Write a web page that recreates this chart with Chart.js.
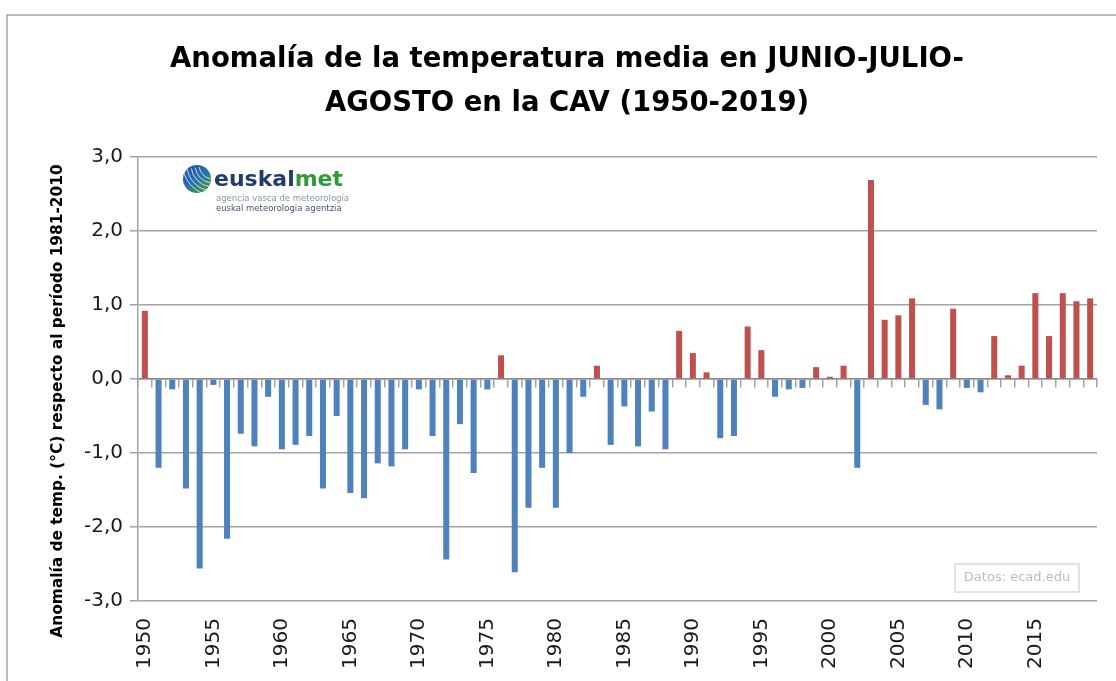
<!DOCTYPE html>
<html>
<head>
<meta charset="utf-8">
<script src="https://cdn.jsdelivr.net/npm/chart.js@4.4.1/dist/chart.umd.min.js"></script>
<style>
  html, body { margin: 0; padding: 0; background: #ffffff; }
  #wrap { position: relative; width: 1116px; height: 681px; }
</style>
</head>
<body>
<div id="wrap"><canvas id="c" width="1116" height="681"></canvas></div>
<script>
// ---- data ----
const years = [
  1950, 1951, 1952, 1953, 1954, 1955, 1956, 1957, 1958, 1959,
  1960, 1961, 1962, 1963, 1964, 1965, 1966, 1967, 1968, 1969,
  1970, 1971, 1972, 1973, 1974, 1975, 1976, 1977, 1978, 1979,
  1980, 1981, 1982, 1983, 1984, 1985, 1986, 1987, 1988, 1989,
  1990, 1991, 1992, 1993, 1994, 1995, 1996, 1997, 1998, 1999,
  2000, 2001, 2002, 2003, 2004, 2005, 2006, 2007, 2008, 2009,
  2010, 2011, 2012, 2013, 2014, 2015, 2016, 2017, 2018, 2019
];
const anomalies = [
   0.92, -1.20, -0.14, -1.48, -2.56, -0.08, -2.16, -0.74, -0.91, -0.24,
  -0.95, -0.89, -0.77, -1.48, -0.50, -1.54, -1.61, -1.14, -1.18, -0.95,
  -0.14, -0.77, -2.44, -0.61, -1.27, -0.14,  0.32, -2.61, -1.74, -1.20,
  -1.74, -1.00, -0.24,  0.18, -0.89, -0.37, -0.91, -0.44, -0.95,  0.65,
   0.35,  0.09, -0.80, -0.77,  0.71,  0.39, -0.24, -0.14, -0.12,  0.16,
   0.03,  0.18, -1.20,  2.69,  0.80,  0.86,  1.09, -0.35, -0.41,  0.95,
  -0.12, -0.18,  0.58,  0.05,  0.18,  1.16,  0.58,  1.16,  1.05,  1.09
];
const labeledYears = [1950, 1955, 1960, 1965, 1970, 1975, 1980, 1985, 1990, 1995, 2000, 2005, 2010, 2015];
const yMin = -3, yMax = 3, yStep = 1;
const titleLines = ['Anomalía de la temperatura media en JUNIO-JULIO-', 'AGOSTO en la CAV (1950-2019)'];
const yTitle = 'Anomalía de temp. (°C) respecto al período 1981-2010';

const RED = '#C0504D';
const BLUE = '#4F81BD';
const GRID = '#a3a3a3';
const FONT = 'DejaVu Sans';

const decor = {
  id: 'decor',
  beforeDraw(chart) {
    const ctx = chart.ctx;
    ctx.save();
    ctx.fillStyle = '#ffffff';
    ctx.fillRect(0, 0, chart.width, chart.height);
    // outer frame
    ctx.strokeStyle = '#a6a6a6';
    ctx.lineWidth = 1.5;
    ctx.beginPath();
    ctx.moveTo(7, 681);
    ctx.lineTo(7, 15);
    ctx.lineTo(1116, 15);
    ctx.stroke();
    ctx.restore();
  },
  afterDraw(chart) {
    const ctx = chart.ctx;
    ctx.save();
    // y-axis title
    ctx.translate(58, 401);
    ctx.rotate(-Math.PI / 2);
    ctx.font = 'bold 15.4px ' + FONT;
    ctx.fillStyle = '#000';
    ctx.textAlign = 'center';
    ctx.textBaseline = 'middle';
    ctx.fillText(yTitle, 0, 0);
    ctx.restore();

    // logo: globe
    ctx.save();
    const gx = 197, gy = 179, gr = 14;
    const g = ctx.createLinearGradient(gx - gr, gy - gr, gx + gr * 0.4, gy + gr);
    g.addColorStop(0, '#1d4f9a');
    g.addColorStop(0.55, '#2a6db5');
    g.addColorStop(1, '#3d9b3f');
    ctx.fillStyle = g;
    ctx.beginPath();
    ctx.arc(gx, gy, gr, 0, Math.PI * 2);
    ctx.fill();
    ctx.strokeStyle = 'rgba(255,255,255,0.75)';
    ctx.lineWidth = 1;
    for (let i = 0; i < 5; i++) {
      ctx.beginPath();
      ctx.arc(gx + 16, gy - 14, 14 + i * 4, Math.PI * 0.55, Math.PI * 0.95);
      ctx.stroke();
    }
    ctx.restore();

    // logo text
    ctx.save();
    ctx.font = 'bold 22px ' + FONT;
    ctx.textBaseline = 'alphabetic';
    ctx.textAlign = 'left';
    ctx.fillStyle = '#1f3d6b';
    ctx.fillText('euskal', 214, 186);
    const w1 = ctx.measureText('euskal').width;
    ctx.fillStyle = '#2f9a3c';
    ctx.fillText('met', 214 + w1, 186);
    ctx.font = '8.5px ' + FONT;
    ctx.fillStyle = '#8a96a3';
    ctx.fillText('agencia vasca de meteorología', 216, 201);
    ctx.fillStyle = '#3f5570';
    ctx.fillText('euskal meteorologia agentzia', 216, 211);
    ctx.restore();

    // data source box
    ctx.save();
    ctx.strokeStyle = '#d9d9d9';
    ctx.lineWidth = 1.5;
    ctx.strokeRect(955, 564, 124, 28);
    ctx.font = '13px ' + FONT;
    ctx.fillStyle = '#bdbdbd';
    ctx.textAlign = 'center';
    ctx.textBaseline = 'middle';
    ctx.fillText('Datos: ecad.edu', 1017, 578);
    ctx.restore();
  }
};

new Chart(document.getElementById('c'), {
  type: 'bar',
  data: {
    labels: years,
    datasets: [{
      data: anomalies,
      backgroundColor: anomalies.map(v => v >= 0 ? RED : BLUE),
      borderWidth: 0,
      barPercentage: 0.44,
      categoryPercentage: 1.0,
      xAxisID: 'x',
      yAxisID: 'y'
    }]
  },
  options: {
    responsive: false,
    devicePixelRatio: 1,
    animation: false,
    layout: { padding: { left: 37, right: 19, top: 16, bottom: 0 } },
    plugins: {
      legend: { display: false },
      tooltip: { enabled: false },
      title: {
        display: true,
        text: titleLines,
        color: '#000',
        font: { family: FONT, size: 27.5, weight: 'bold', lineHeight: 44 / 27.5 },
        padding: { top: 21.8, bottom: 31.2 }
      }
    },
    scales: {
      x: {
        type: 'category',
        offset: true,
        grid: { display: false, drawTicks: false, tickLength: 0 },
        border: { display: false },
        ticks: {
          autoSkip: false,
          minRotation: 90,
          maxRotation: 90,
          padding: 17,
          color: '#1a1a1a',
          font: { family: FONT, size: 20 },
          callback: function (value, index) {
            const yr = years[index];
            return labeledYears.includes(yr) ? String(yr) : '';
          }
        },
        afterFit(scale) { scale.height = 80; scale.paddingLeft = 0; scale.paddingRight = 0; }
      },
      x0: {
        type: 'category',
        labels: years,
        position: { y: 0 },
        offset: true,
        grid: { offset: true, drawOnChartArea: false, drawTicks: true, tickLength: 8, color: GRID, lineWidth: 1.5 },
        border: { display: true, color: '#8c8c8c', width: 1.5 },
        ticks: { display: false }
      },
      y: {
        type: 'linear',
        min: yMin,
        max: yMax,
        grid: { color: GRID, lineWidth: 1.5, drawTicks: true, tickLength: 8 },
        border: { display: true, color: GRID, width: 1.5 },
        ticks: {
          stepSize: yStep,
          padding: 7,
          color: '#1a1a1a',
          font: { family: FONT, size: 20 },
          callback: v => v.toFixed(1).replace('.', ',')
        },
        afterFit(scale) { scale.width = 101; scale.paddingTop = 0; scale.paddingBottom = 0; }
      }
    }
  },
  plugins: [decor]
});
</script>
</body>
</html>
